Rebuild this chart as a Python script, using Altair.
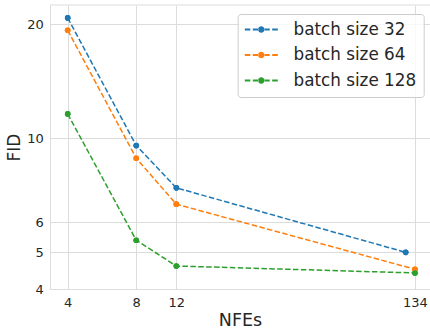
import altair as alt
import pandas as pd

series = ["batch size 32", "batch size 64", "batch size 128"]
colors = ["#1f77b4", "#ff7f0e", "#2ca02c"]

nfe_32 = [4, 8, 12, 122]
fid_32 = [20.8, 9.57, 7.40, 5.0]
nfe_64 = [4, 8, 12, 134]
fid_64 = [19.3, 8.86, 6.70, 4.51]
nfe_128 = [4, 8, 12, 134]
fid_128 = [11.6, 5.38, 4.60, 4.41]

x_ticks = [4, 8, 12, 134]
y_ticks = [4, 5, 6, 10, 20]

rows = []
for name, xs, ys in [(series[0], nfe_32, fid_32), (series[1], nfe_64, fid_64), (series[2], nfe_128, fid_128)]:
    for i, (x, y) in enumerate(zip(xs, ys)):
        rows.append({"series": name, "nfe": x, "fid": y, "order": i})
df = pd.DataFrame(rows)

GRID = "#dcdcdc"
TXT = "#262626"
FONT = "DejaVu Sans"

# legend glyph: dashed line with a dot, unit = sqrt(symbolSize)/2 = 8.4px
sym_path = (
    "M-1,-0.11H-0.34V0.11H-1Z "
    "M-0.05,-0.11H0.62V0.11H-0.05Z "
    "M1.3,-0.11H1.97V0.11H1.3Z "
    "M2.26,-0.11H2.93V0.11H2.26Z "
    "M0.57,0A0.39,0.39 0 1,0 1.35,0A0.39,0.39 0 1,0 0.57,0Z"
)

x_enc = alt.X(
    "nfe:Q",
    scale=alt.Scale(type="log", domain=[3.345, 156], nice=False),
    axis=alt.Axis(values=x_ticks, format="d", title="NFEs", ticks=False,
                  labelPadding=7.5, titlePadding=2, labelFontSize=13,
                  titleFontSize=17.5, labelFlush=False, titleFontWeight="normal"),
)
y_enc = alt.Y(
    "fid:Q",
    scale=alt.Scale(type="log", domain=[4, 22.5], nice=False),
    axis=alt.Axis(values=y_ticks, format="d", title="FID", ticks=False,
                  labelPadding=6.7, titlePadding=3, labelFontSize=13,
                  titleFontSize=17, titleFontWeight="normal"),
)
legend = alt.Legend(
    title=None, orient="none", legendX=187.7, legendY=9,
    symbolType=sym_path, symbolSize=282, symbolStrokeWidth=0,
    labelFontSize=16.8, labelColor=TXT, labelFont=FONT, labelOffset=31.8,
    rowPadding=7.5, padding=7, strokeColor="#cccccc", fillColor="rgba(255,255,255,0.8)",
    cornerRadius=3,
)
scale = alt.Scale(domain=series, range=colors)

lines = alt.Chart(df).mark_line(strokeWidth=1.5, strokeDash=[5.5, 2.4]).encode(
    x=x_enc, y=y_enc, order="order:Q",
    color=alt.Color("series:N", scale=scale, sort=series, legend=legend),
)
points = alt.Chart(df).mark_point(filled=True, size=32, opacity=1).encode(
    x=x_enc, y=y_enc,
    color=alt.Color("series:N", scale=scale, sort=series, legend=legend),
)

top = alt.Chart(pd.DataFrame({"a": [0]})).mark_rule(color=GRID, strokeWidth=1).encode(y=alt.value(0))

chart = alt.layer(top, points, lines, points).properties(
    width=380, height=284,
    background="white",
    autosize=alt.AutoSizeParams(type="none"),
    padding={"left": 50, "top": 5, "right": 0, "bottom": 42},
).configure_view(stroke=None).configure_axis(
    gridColor=GRID, domainColor=GRID, labelColor=TXT, titleColor=TXT,
    labelFont=FONT, titleFont=FONT, titleFontWeight="normal",
)

chart.save("out.html", embed_options={"renderer": "svg", "actions": False})
